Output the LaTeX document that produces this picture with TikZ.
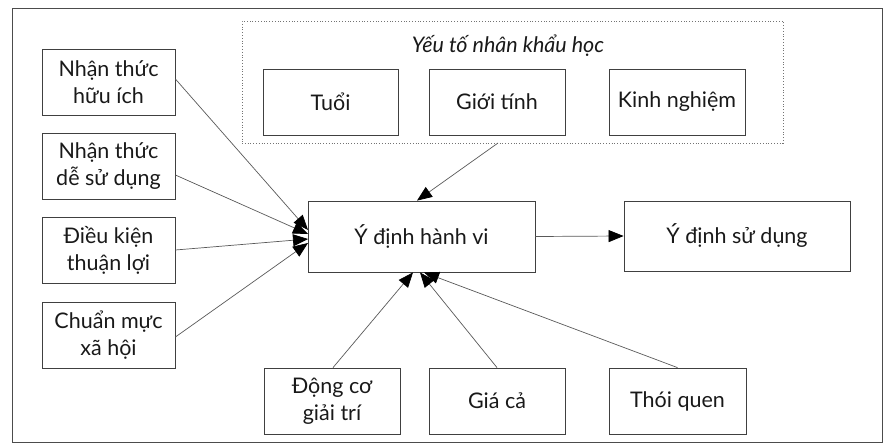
\documentclass[tikz,border=0pt]{standalone}
\usepackage{fontspec}
\setmainfont{Lato}
\usetikzlibrary{arrows.meta}
\begin{document}
\begin{tikzpicture}[x=1pt,y=-1pt,
  box/.style={draw=black!75, line width=0.8pt, minimum width=#1, minimum height=66pt, inner sep=0pt, align=center, font=\fontsize{21.5}{27}\selectfont, text=black!90},
  box/.default=134pt,
  conn/.style={draw=black!65, line width=0.7pt, -{Triangle[length=15pt,width=12pt,color=black,fill=black]}},
  dotbox/.style={draw=black!55, line width=0.8pt, dotted}]
\useasboundingbox (0,0) rectangle (885,444);
\draw[black!70, line width=0.8pt] (12,8) rectangle (882,442);
\node[draw=none, minimum width=541pt, minimum height=122pt, dotbox, inner sep=0pt] (demo) at (512.5,82) {};
\node[font=\itshape\fontsize{21.5}{27}\selectfont, text=black!90] (demolbl) at (508,46) {Yếu tố nhân khẩu học};
\node[box=135pt] (tuoi) at (330.5,102) {Tuổi};
\node[box=136pt] (gioi) at (497,102) {Giới tính};
\node[box=136pt] (kinh) at (677,102) {Kinh nghiệm};
\node[box=133pt] (l1) at (108.5,82) {Nhận thức\\hữu ích};
\node[box=133pt] (l2) at (108.5,166) {Nhận thức\\dễ sử dụng};
\node[box=133pt] (l3) at (108.5,250.5) {Điều kiện\\thuận lợi};
\node[box=133pt] (l4) at (108.5,335.5) {Chuẩn mực\\xã hội};
\node[box=227pt, minimum height=71pt] (ydhv) at (421.5,236.5) {Ý định hành vi};
\node[box=226pt, minimum height=70pt] (ydsd) at (737,236) {Ý định sử dụng};
\node[box=136pt] (b1) at (332,401) {Động cơ\\giải trí};
\node[box=136pt] (b2) at (497,401) {Giá cả};
\node[box=137pt] (b3) at (677.5,401) {Thói quen};
\coordinate (tipl1) at (308,230);
\coordinate (tipl2) at (308,234);
\coordinate (tipl3) at (308,239);
\coordinate (tipl4) at (308,243);
\draw[conn] (l1.east |- 0,79) -- (tipl1);
\draw[conn] (l2.east |- 0,175) -- (tipl2);
\draw[conn] (l3.east |- 0,250) -- (tipl3);
\draw[conn] (l4.east |- 0,337) -- (tipl4);
\coordinate (demofoot) at (498,143);
\draw[conn] (demofoot) -- (ydhv.north -| 417,0);
\draw[conn] (b1.north -| 333,0) -- (ydhv.south -| 413,0);
\draw[conn] (b2.north) -- (ydhv.south -| 420,0);
\draw[conn] (b3.north) -- (ydhv.south -| 424,0);
\draw[conn] (ydhv.east) -- (ydsd.west);
\end{tikzpicture}
\end{document}
